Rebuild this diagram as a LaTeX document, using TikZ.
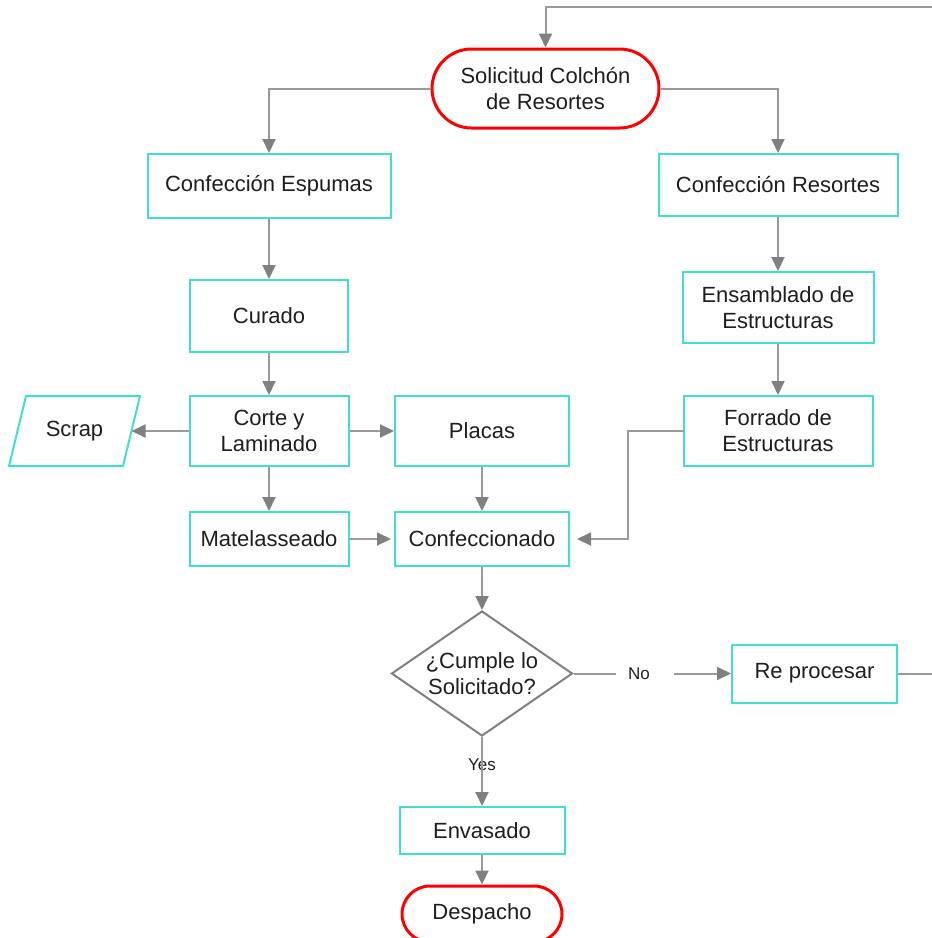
\documentclass[tikz,border=0pt]{standalone}
\usepackage{fontspec}
\setmainfont{Liberation Sans}
\usetikzlibrary{arrows.meta,shapes.geometric,calc}

\definecolor{boxline}{HTML}{40E0D0}
\definecolor{termred}{HTML}{FF0000}
\definecolor{linkgray}{HTML}{9A9A9A}
\definecolor{tipgray}{HTML}{808080}
\definecolor{inkcol}{HTML}{1E1E1E}

\tikzset{
  basetext/.style={text=inkcol, align=center, font=\fontsize{22}{26}\selectfont},
  proc/.style={basetext, draw=boxline, line width=2pt, rectangle, inner sep=0pt},
  term/.style={basetext, draw=termred, line width=3pt, rectangle, inner sep=0pt},
  decision/.style={draw=tipgray, line width=2pt, diamond, inner sep=0pt},
  link/.style={draw=linkgray, line width=2pt,
    -{Triangle[length=14pt,width=13pt,color=tipgray,fill=tipgray]}},
  plainlink/.style={draw=linkgray, line width=2pt},
  tag/.style={text=inkcol, inner sep=0pt, font=\fontsize{17}{19}\selectfont}
}

\begin{document}
\begin{tikzpicture}[x=1pt,y=-1pt]
\useasboundingbox (0,0) rectangle (932,938);
\clip (0,0) rectangle (932,938);

% start terminator
\node[term, minimum width=227pt, minimum height=79pt, rounded corners=39.5pt]
  (sol) at (545.5,88.5) {Solicitud Colchón\\de Resortes};

% foam branch
\node[proc, minimum width=243pt, minimum height=64pt] (espumas) at (269,186) {Confección Espumas};
\node[proc, minimum width=158pt, minimum height=72pt] (curado) at (269,316) {Curado};
\node[proc, minimum width=159pt, minimum height=70pt] (corte) at (269,431) {Corte y\\Laminado};
\node[proc, minimum width=159pt, minimum height=54pt] (matel) at (269,539) {Matelasseado};

% scrap output (parallelogram drawn around a plain text node)
\node[basetext, inner sep=0pt, outer sep=0pt, minimum width=114pt, minimum height=70pt]
  (scrap) at (74.5,431) {Scrap};
\draw[draw=boxline, line width=2pt]
  ($(scrap.south west)+(-8.5,0)$) -- ($(scrap.north west)+(8.5,0)$) --
  ($(scrap.north east)+(8.5,0)$) -- ($(scrap.south east)+(-8.5,0)$) -- cycle;

% middle column
\node[proc, minimum width=174pt, minimum height=70pt] (placas) at (482,431) {Placas};
\node[proc, minimum width=174pt, minimum height=54pt] (confec) at (482,539) {Confeccionado};

% spring branch
\node[proc, minimum width=239pt, minimum height=62pt] (resortes) at (778,185) {Confección Resortes};
\node[proc, minimum width=191pt, minimum height=71pt] (ensam) at (778,307.5) {Ensamblado de\\Estructuras};
\node[proc, minimum width=189pt, minimum height=70pt] (forrado) at (778,431) {Forrado de\\Estructuras};

% quality check
\node[decision, minimum width=181pt, minimum height=125pt] (dec) at (482,673.5) {};
\node[basetext, inner sep=0pt] (dectext) at (482,674) {¿Cumple lo\\Solicitado?};
\node[proc, minimum width=165pt, minimum height=58pt] (reproc) at (814.5,673.5) {Re procesar};
\node[tag] (no) at (639,673.5) {No};
\node[tag] (yes) at (482,765) {Yes};

% finishing
\node[proc, minimum width=165pt, minimum height=47pt] (envas) at (482,830.5) {Envasado};
\node[term, minimum width=160pt, minimum height=56pt, rounded corners=28pt]
  (desp) at (482,914) {Despacho};

% connectors
\draw[link] (sol.west) -| (espumas.north);
\draw[link] (sol.east) -| (resortes.north);
\draw[link] (espumas) -- (curado);
\draw[link] (curado) -- (corte);
\draw[link] (corte.west) -- (scrap.east);
\draw[link] (corte.east) -- (placas.west);
\draw[link] (corte) -- (matel);
\draw[link] (placas) -- (confec);
\draw[link, shorten >=3pt] (matel.east) -- (confec.west);
\draw[link] (resortes) -- (ensam);
\draw[link] (ensam) -- (forrado);
\draw[link, shorten >=7pt] (forrado.west) -- (628,431) -- (628,539) -- (confec.east);
\draw[link] (confec.south) -- (dec.north);
\draw[plainlink] (dec.east) -- ([xshift=-12pt]no.west);
\draw[link] ([xshift=24pt]no.east) -- (reproc.west);
\draw[plainlink] (dec.south) -- ([yshift=-6pt]yes.north);
\draw[link] ([yshift=7pt]yes.south) -- (envas.north);
\draw[link] (envas) -- (desp);
\draw[link] (reproc.east) -- (960,673.5) -- (960,7) -- (545.5,7) -- (sol.north);
\end{tikzpicture}
\end{document}
